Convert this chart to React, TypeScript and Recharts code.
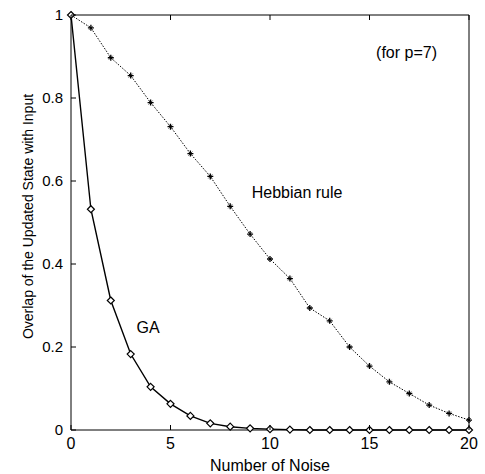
import React from 'react';
import { LineChart, Line, XAxis, YAxis, ReferenceDot } from 'recharts';

const noise = [0, 1, 2, 3, 4, 5, 6, 7, 8, 9, 10, 11, 12, 13, 14, 15, 16, 17, 18, 19, 20];
const hebbian = [1, 0.969, 0.897, 0.854, 0.789, 0.731, 0.666, 0.611, 0.539, 0.472, 0.412, 0.365, 0.294, 0.263, 0.2, 0.154, 0.116, 0.088, 0.06, 0.04, 0.024];
const gaValues = [1, 0.532, 0.312, 0.183, 0.104, 0.063, 0.034, 0.016, 0.008, 0.004, 0.002, 0.001, 0, 0, 0, 0, 0, 0, 0, 0, 0];
const xTicks = [0, 5, 10, 15, 20];
const yTicks = [0, 0.2, 0.4, 0.6, 0.8, 1];

const data = noise.map((x, i) => ({ x, hebb: hebbian[i], ga: gaValues[i] }));

const FONT = '"Liberation Sans", Arial, Helvetica, sans-serif';
const GAP = 8;
const TICK = 5;

const PlusDot = (props: any) => {
  const { cx, cy } = props;
  if (cx == null || cy == null) return <g />;
  return (
    <g>
      <path d={`M${cx - 3},${cy}H${cx + 3}M${cx},${cy - 3}V${cy + 3}`} stroke="#000" strokeWidth={1.3} />
      <path d={`M${cx - 2},${cy - 2}L${cx + 2},${cy + 2}M${cx - 2},${cy + 2}L${cx + 2},${cy - 2}`} stroke="#000" strokeWidth={0.7} />
    </g>
  );
};

const DiamondDot = (props: any) => {
  const { cx, cy } = props;
  if (cx == null || cy == null) return <g />;
  const s = 3.5;
  return (
    <path
      d={`M${cx},${cy - s}L${cx + s},${cy}L${cx},${cy + s}L${cx - s},${cy}Z`}
      fill="#fff"
      stroke="#000"
      strokeWidth={1.2}
    />
  );
};

const BottomTick = (props: any) => {
  const { x, y, payload } = props;
  const ay = y - GAP;
  return (
    <g>
      <line x1={x} y1={ay} x2={x} y2={ay - TICK} stroke="#000" strokeWidth={1} />
      <text x={x} y={y} dy="0.71em" textAnchor="middle" fontSize={16} fontFamily={FONT} fill="#000">
        {String(payload.value)}
      </text>
    </g>
  );
};

const LeftTick = (props: any) => {
  const { x, y, payload } = props;
  const ax = x + GAP;
  return (
    <g>
      <line x1={ax} y1={y} x2={ax + TICK} y2={y} stroke="#000" strokeWidth={1} />
      <text x={x} y={y} dy="0.355em" textAnchor="end" fontSize={15} fontFamily={FONT} fill="#000">
        {String(payload.value)}
      </text>
    </g>
  );
};

const TopTick = (props: any) => {
  const { x, y } = props;
  return <line x1={x} y1={y} x2={x} y2={y + TICK} stroke="#000" strokeWidth={1} />;
};

const RightTick = (props: any) => {
  const { x, y } = props;
  return <line x1={x} y1={y} x2={x - TICK} y2={y} stroke="#000" strokeWidth={1} />;
};

const YTitle = (props: any) => {
  const vb = props.viewBox || { x: 11, y: 15, width: 60, height: 415 };
  const cx = vb.x + 17;
  const cy = vb.y + vb.height / 2 - 6;
  return (
    <text
      x={cx}
      y={cy}
      transform={`rotate(-90, ${cx}, ${cy})`}
      textAnchor="middle"
      dominantBaseline="central"
      fontSize={14}
      fontFamily={FONT}
      fill="#000"
    >
      Overlap of the Updated State with Input
    </text>
  );
};

export default function App() {
  return (
    <div style={{ position: 'absolute', left: 0, top: 0, background: '#fff' }}>
      <LineChart width={485} height={474} data={data} margin={{ top: 14, right: 15, bottom: 14, left: 11 }}>
        <XAxis
          xAxisId="b"
          dataKey="x"
          type="number"
          domain={[0, 20]}
          ticks={xTicks}
          height={30}
          tickSize={0}
          tickMargin={GAP}
          tickLine={false}
          stroke="#000"
          axisLine={{ stroke: '#000', strokeWidth: 1 }}
          tick={BottomTick}
          label={{ value: 'Number of Noise', position: 'bottom', offset: 0, fill: '#000', fontSize: 16, fontFamily: FONT }}
        />
        <XAxis
          xAxisId="t"
          orientation="top"
          type="number"
          domain={[0, 20]}
          ticks={xTicks}
          height={1}
          tickSize={0}
          tickMargin={0}
          tickLine={false}
          stroke="#000"
          axisLine={{ stroke: '#000', strokeWidth: 1 }}
          tick={TopTick}
        />
        <YAxis
          yAxisId="l"
          type="number"
          domain={[0, 1]}
          ticks={yTicks}
          width={60}
          tickSize={0}
          tickMargin={GAP}
          tickLine={false}
          stroke="#000"
          axisLine={{ stroke: '#000', strokeWidth: 1 }}
          tick={LeftTick}
          label={{ content: YTitle }}
        />
        <YAxis
          yAxisId="r"
          orientation="right"
          type="number"
          domain={[0, 1]}
          ticks={yTicks}
          width={1}
          tickSize={0}
          tickMargin={0}
          tickLine={false}
          stroke="#000"
          axisLine={{ stroke: '#000', strokeWidth: 1 }}
          tick={RightTick}
        />
        <Line
          xAxisId="b"
          yAxisId="l"
          type="linear"
          dataKey="hebb"
          stroke="#000"
          strokeWidth={1}
          strokeDasharray="1.5 1.5"
          dot={PlusDot}
          activeDot={false}
          isAnimationActive={false}
        />
        <Line
          xAxisId="b"
          yAxisId="l"
          type="linear"
          dataKey="ga"
          stroke="#000"
          strokeWidth={1.4}
          dot={DiamondDot}
          activeDot={false}
          isAnimationActive={false}
        />
        <ReferenceDot
          xAxisId="b"
          yAxisId="l"
          x={11.36}
          y={0.573}
          r={0}
          fill="none"
          stroke="none"
          label={{ value: 'Hebbian rule', position: 'center', fill: '#000', fontSize: 16, fontFamily: FONT }}
        />
        <ReferenceDot
          xAxisId="b"
          yAxisId="l"
          x={16.86}
          y={0.911}
          r={0}
          fill="none"
          stroke="none"
          label={{ value: '(for p=7)', position: 'center', fill: '#000', fontSize: 16, fontFamily: FONT }}
        />
        <ReferenceDot
          xAxisId="b"
          yAxisId="l"
          x={3.87}
          y={0.248}
          r={0}
          fill="none"
          stroke="none"
          label={{ value: 'GA', position: 'center', fill: '#000', fontSize: 16, fontFamily: FONT }}
        />
      </LineChart>
    </div>
  );
}
